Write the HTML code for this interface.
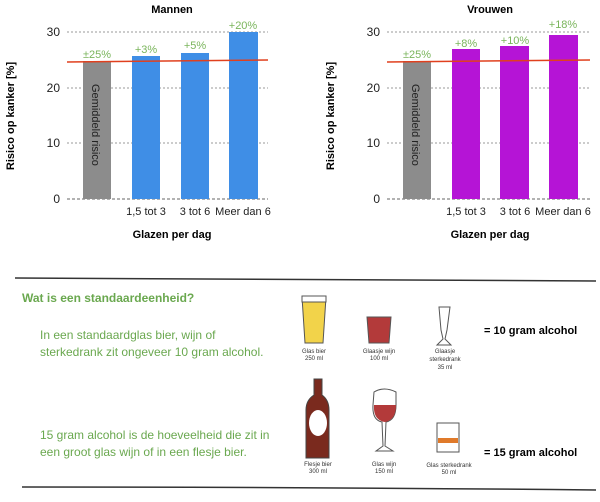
<!DOCTYPE html>
<html><head><meta charset="utf-8"><style>
body{margin:0;background:#fff}
svg{display:block;font-family:"Liberation Sans",sans-serif}
</style></head><body>
<svg width="600" height="502" viewBox="0 0 600 502">
<!-- LEFT CHART -->
<text x="172" y="13" font-size="11" font-weight="bold" text-anchor="middle">Mannen</text>
<g stroke="#999" stroke-dasharray="2,2" stroke-width="1">
<line x1="67" y1="32" x2="268" y2="32"/><line x1="67" y1="88" x2="268" y2="88"/><line x1="67" y1="143" x2="268" y2="143"/></g>
<line x1="67" y1="199" x2="268" y2="199" stroke="#666" stroke-dasharray="3,2"/>
<g font-size="12" fill="#222" text-anchor="end"><text x="60" y="36">30</text><text x="60" y="92">20</text><text x="60" y="147">10</text><text x="60" y="203">0</text></g>
<rect x="83" y="61" width="28" height="138" fill="#8c8c8c"/>
<rect x="132" y="56" width="28" height="143" fill="#3f8ee6"/>
<rect x="181" y="53" width="28" height="146" fill="#3f8ee6"/>
<rect x="229" y="32" width="29" height="167" fill="#3f8ee6"/>
<line x1="67" y1="62" x2="268" y2="60" stroke="#e0401e" stroke-width="1.5"/>
<text transform="translate(92,84) rotate(90)" font-size="11" fill="#222">Gemiddeld risico</text>
<g font-size="11" fill="#7ab55c" text-anchor="middle"><text x="97" y="58">±25%</text><text x="146" y="53">+3%</text><text x="195" y="49">+5%</text><text x="243" y="29">+20%</text></g>
<g font-size="11" fill="#222" text-anchor="middle"><text x="146" y="215">1,5 tot 3</text><text x="195" y="215">3 tot 6</text><text x="243" y="215">Meer dan 6</text></g>
<text x="172" y="238" font-size="11" font-weight="bold" text-anchor="middle">Glazen per dag</text>
<text transform="translate(14,116) rotate(-90)" font-size="11" font-weight="bold" text-anchor="middle">Risico op kanker [%]</text>
<!-- RIGHT CHART -->
<text x="490" y="13" font-size="11" font-weight="bold" text-anchor="middle">Vrouwen</text>
<g stroke="#999" stroke-dasharray="2,2" stroke-width="1">
<line x1="387" y1="32" x2="590" y2="32"/><line x1="387" y1="88" x2="590" y2="88"/><line x1="387" y1="143" x2="590" y2="143"/></g>
<line x1="387" y1="199" x2="590" y2="199" stroke="#666" stroke-dasharray="3,2"/>
<g font-size="12" fill="#222" text-anchor="end"><text x="380" y="36">30</text><text x="380" y="92">20</text><text x="380" y="147">10</text><text x="380" y="203">0</text></g>
<rect x="403" y="61" width="28" height="138" fill="#8c8c8c"/>
<rect x="452" y="49" width="28" height="150" fill="#b514d6"/>
<rect x="500" y="46" width="29" height="153" fill="#b514d6"/>
<rect x="549" y="35" width="29" height="164" fill="#b514d6"/>
<line x1="387" y1="62" x2="590" y2="60" stroke="#e0401e" stroke-width="1.5"/>
<text transform="translate(412,84) rotate(90)" font-size="11" fill="#222">Gemiddeld risico</text>
<g font-size="11" fill="#7ab55c" text-anchor="middle"><text x="417" y="58">±25%</text><text x="466" y="47">+8%</text><text x="515" y="44">+10%</text><text x="563" y="28">+18%</text></g>
<g font-size="11" fill="#222" text-anchor="middle"><text x="466" y="215">1,5 tot 3</text><text x="515" y="215">3 tot 6</text><text x="563" y="215">Meer dan 6</text></g>
<text x="490" y="238" font-size="11" font-weight="bold" text-anchor="middle">Glazen per dag</text>
<text transform="translate(334,116) rotate(-90)" font-size="11" font-weight="bold" text-anchor="middle">Risico op kanker [%]</text>
<!-- BOTTOM -->
<path d="M15 278 Q300 279 596 281" stroke="#333" stroke-width="1.5" fill="none"/>
<path d="M22 487 Q300 487 596 490" stroke="#333" stroke-width="1.5" fill="none"/>
<text x="22" y="302" font-size="12" font-weight="bold" fill="#6aa84f">Wat is een standaardeenheid?</text>
<g font-size="12" fill="#6aa84f"><text x="40" y="339">In een standaardglas bier, wijn of</text><text x="40" y="356">sterkedrank zit ongeveer 10 gram alcohol.</text>
<text x="40" y="439">15 gram alcohol is de hoeveelheid die zit in</text><text x="40" y="456">een groot glas wijn of in een flesje bier.</text></g>
<!-- icons -->
<path d="M302 297 L326 297 L323 343 L305 343Z" fill="#f2d34a" stroke="#555"/>
<rect x="302" y="296" width="24" height="6" fill="#fff" stroke="#555"/>
<path d="M367 317 L391 317 L389 343 L369 343Z" fill="#b33a3a" stroke="#555"/>
<path d="M439 307 L450 307 L447 330 L445 339 L451 345 L437 345 L443 339 L441 330Z" fill="#fff" stroke="#555"/>
<g font-size="6" fill="#333" text-anchor="middle"><text x="314" y="353">Glas bier</text><text x="314" y="360">250 ml</text>
<text x="379" y="353">Glaasje wijn</text><text x="379" y="360">100 ml</text>
<text x="445" y="353">Glaasje</text><text x="445" y="361">sterkedrank</text><text x="445" y="369">35 ml</text>
<text x="318" y="466">Flesje bier</text><text x="318" y="473">300 ml</text>
<text x="384" y="466">Glas wijn</text><text x="384" y="473">150 ml</text>
<text x="449" y="467">Glas sterkedrank</text><text x="449" y="474">50 ml</text></g>
<text x="484" y="334" font-size="11" font-weight="bold">= 10 gram alcohol</text>
<text x="484" y="456" font-size="11" font-weight="bold">= 15 gram alcohol</text>
<path d="M314 379 L322 379 L322 395 Q329 400 329 410 L329 458 L306 458 L306 410 Q306 400 314 395Z" fill="#7a2a1e" stroke="#444"/>
<ellipse cx="318" cy="423" rx="9" ry="13" fill="#fff"/>
<path d="M374 392 Q384 386 396 392 L396 405 Q396 420 386 422 L385 446 L393 451 L376 451 L383 446 L382 422 Q372 420 373 405Z" fill="#fff" stroke="#555"/>
<path d="M374 405 L396 405 Q396 420 385 422 Q373 420 374 405Z" fill="#b33a3a"/>
<rect x="437" y="423" width="22" height="29" fill="#fff" stroke="#555"/>
<rect x="438" y="438" width="20" height="5" fill="#e07a2a"/>
</svg>
</body></html>
